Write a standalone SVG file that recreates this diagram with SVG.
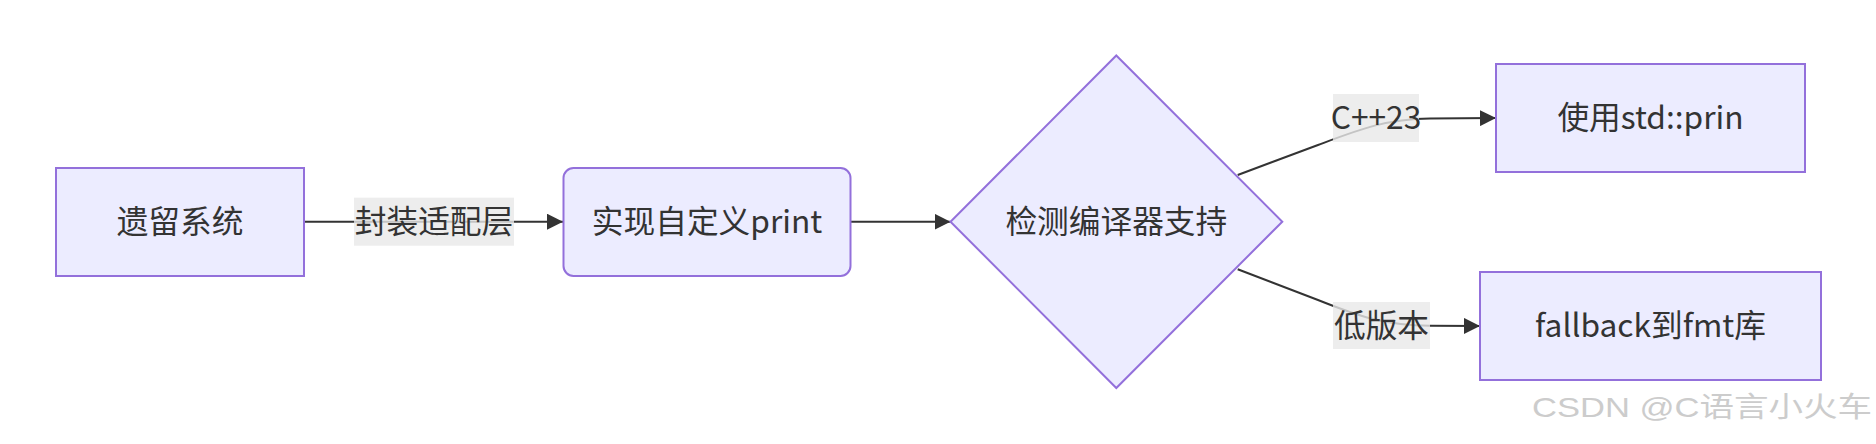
<svg xmlns="http://www.w3.org/2000/svg" width="1876" height="444" viewBox="0 0 1876 444">
  <style>
    .node { fill: #ECECFF; stroke: #9370DB; stroke-width: 2; }
    .edge { fill: none; stroke: #333333; stroke-width: 2; }
    .lbl-bg { fill: #e8e8e8; fill-opacity: 0.8; }
    .txt { font-family: "Noto Sans CJK SC", "Noto Sans", sans-serif; font-size: 31.7px; fill: #333333; text-anchor: middle; }
    .wm { font-family: "Liberation Sans", "Noto Sans CJK SC", sans-serif; font-size: 28px; fill: #cccccc; }
  </style>
  <defs>
    <marker id="arrow" viewBox="0 0 10 10" refX="10" refY="5" markerUnits="userSpaceOnUse" markerWidth="16" markerHeight="16" orient="auto">
      <path d="M0,0 L10,5 L0,10 z" fill="#333333"/>
    </marker>
  </defs>
  <rect width="1876" height="444" fill="#ffffff"/>

  <g id="connectors">
    <path class="edge" d="M304,221.7 L563,221.7" marker-end="url(#arrow)"/>
    <path class="edge" d="M851,221.7 L950.5,221.7" marker-end="url(#arrow)"/>
    <path class="edge" d="M1237.7,175 L1318,145 C1358,130 1385,119 1430,118.5 L1496,118" marker-end="url(#arrow)"/>
    <path class="edge" d="M1237.7,269.3 L1318,300 C1358,316 1385,325.5 1430,325.8 L1480,326" marker-end="url(#arrow)"/>
    <g id="edge-labels">
      <rect class="lbl-bg" x="354" y="197.7" width="160" height="48"/>
      <text class="txt" x="434" y="232.7">封装适配层</text>
      <rect class="lbl-bg" x="1333" y="94" width="86" height="48"/>
      <text class="txt" x="1376" y="129">C++23</text>
      <rect class="lbl-bg" x="1333" y="302" width="97" height="47"/>
      <text class="txt" x="1381.5" y="336.5">低版本</text>
    </g>
  </g>

  <g id="node-legacy">
    <rect class="node" x="56" y="168" width="248" height="108"/>
    <text class="txt" x="180" y="232.7">遗留系统</text>
  </g>
  <g id="node-custom-print">
    <rect class="node" x="563.5" y="168" width="287" height="108" rx="10" ry="10"/>
    <text class="txt" x="707" y="232.7">实现自定义print</text>
  </g>
  <g id="node-detect">
    <polygon class="node" points="1116.3,55.5 1282.3,221.7 1116.3,388 950.5,221.7"/>
    <text class="txt" x="1116.3" y="232.7">检测编译器支持</text>
  </g>
  <g id="node-std-print">
    <rect class="node" x="1496" y="64" width="309" height="108"/>
    <text class="txt" x="1650.5" y="129">使用std::prin</text>
  </g>
  <g id="node-fmt">
    <rect class="node" x="1480" y="272" width="341" height="108"/>
    <text class="txt" x="1650.5" y="337">fallback到fmt库</text>
  </g>

  <text class="wm" x="1532" y="417" textLength="340" lengthAdjust="spacingAndGlyphs">CSDN @C语言小火车</text>
</svg>
